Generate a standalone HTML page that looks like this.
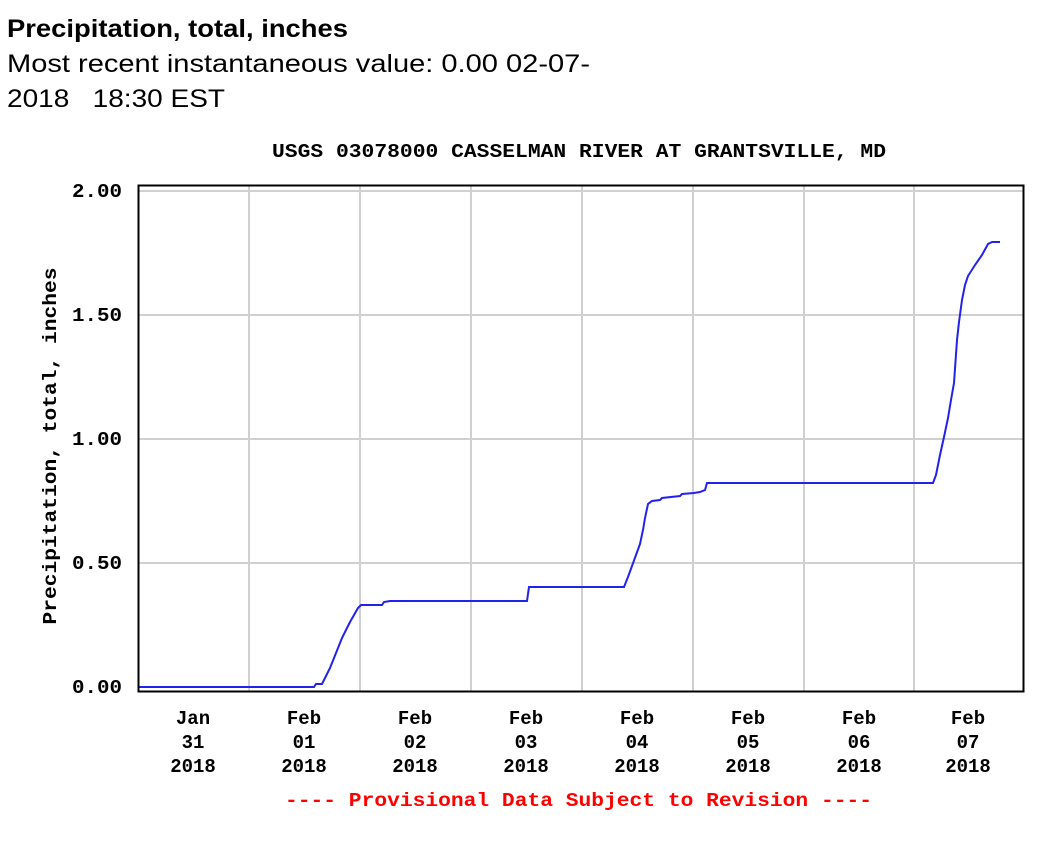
<!DOCTYPE html>
<html><head><meta charset="utf-8"><style>
html,body{margin:0;padding:0;background:#fff;}
svg{display:block;}
</style></head><body>
<svg width="1047" height="845" xmlns="http://www.w3.org/2000/svg">
<g font-family="Liberation Sans, sans-serif" fill="#000">
<text x="7" y="37" font-size="25" font-weight="bold" textLength="341" lengthAdjust="spacingAndGlyphs">Precipitation, total, inches</text>
<text x="7" y="72" font-size="25" textLength="583" lengthAdjust="spacingAndGlyphs">Most recent instantaneous value: 0.00 02-07-</text>
<text x="7" y="107" font-size="25" textLength="218" lengthAdjust="spacingAndGlyphs" xml:space="preserve">2018   18:30 EST</text>
</g>
<g font-family="Liberation Mono, monospace" font-weight="bold" fill="#000">
<text x="272" y="157" font-size="19" textLength="614" lengthAdjust="spacingAndGlyphs">USGS 03078000 CASSELMAN RIVER AT GRANTSVILLE, MD</text>
<g font-size="19" text-anchor="end">
<text x="122" y="197" textLength="50" lengthAdjust="spacingAndGlyphs">2.00</text>
<text x="122" y="321" textLength="50" lengthAdjust="spacingAndGlyphs">1.50</text>
<text x="122" y="445" textLength="50" lengthAdjust="spacingAndGlyphs">1.00</text>
<text x="122" y="569" textLength="50" lengthAdjust="spacingAndGlyphs">0.50</text>
<text x="122" y="693" textLength="50" lengthAdjust="spacingAndGlyphs">0.00</text>
</g>
<text transform="translate(56,446) rotate(-90)" font-size="19" text-anchor="middle" textLength="357" lengthAdjust="spacingAndGlyphs">Precipitation, total, inches</text>
<g font-size="19" text-anchor="middle">
<text x="193" y="724">Jan</text><text x="193" y="748">31</text><text x="193" y="772">2018</text>
<text x="304" y="724">Feb</text><text x="304" y="748">01</text><text x="304" y="772">2018</text>
<text x="415" y="724">Feb</text><text x="415" y="748">02</text><text x="415" y="772">2018</text>
<text x="526" y="724">Feb</text><text x="526" y="748">03</text><text x="526" y="772">2018</text>
<text x="637" y="724">Feb</text><text x="637" y="748">04</text><text x="637" y="772">2018</text>
<text x="748" y="724">Feb</text><text x="748" y="748">05</text><text x="748" y="772">2018</text>
<text x="859" y="724">Feb</text><text x="859" y="748">06</text><text x="859" y="772">2018</text>
<text x="968" y="724">Feb</text><text x="968" y="748">07</text><text x="968" y="772">2018</text>
</g>
<text x="285" y="806" font-size="19" fill="#ff0000" textLength="587" lengthAdjust="spacingAndGlyphs">---- Provisional Data Subject to Revision ----</text>
</g>
<g stroke="#d0d0d0" stroke-width="2">
<line x1="139" y1="191" x2="1023" y2="191"/>
<line x1="139" y1="315" x2="1023" y2="315"/>
<line x1="139" y1="439" x2="1023" y2="439"/>
<line x1="139" y1="563" x2="1023" y2="563"/>
<line x1="249" y1="186" x2="249" y2="691"/>
<line x1="360" y1="186" x2="360" y2="691"/>
<line x1="471" y1="186" x2="471" y2="691"/>
<line x1="582" y1="186" x2="582" y2="691"/>
<line x1="693" y1="186" x2="693" y2="691"/>
<line x1="804" y1="186" x2="804" y2="691"/>
<line x1="914" y1="186" x2="914" y2="691"/>
</g>
<polyline fill="none" stroke="#2222ee" stroke-width="2" points="139,687 314,687 316,684 322,684 326,676 330,668 334,658 338,648 342,638 346,630 350,622 354,615 358,608 361,605 382,605 384,602 390,601 527,601 529,587 624,587 628,577 632,566 636,555 640,544 643,530 645,518 648,504 652,501 660,500 662,498 680,496 682,494 694,493 700,492 705,490 707,483 933,483 936,475 940,455 944,437 948,418 951,400 954,383 957,340 959,322 962,300 965,285 968,276 975,265 982,255 988,244 992,242 1000,242"/>
<rect x="138.5" y="185.5" width="885" height="506" fill="none" stroke="#000" stroke-width="2"/>
</svg>
</body></html>
